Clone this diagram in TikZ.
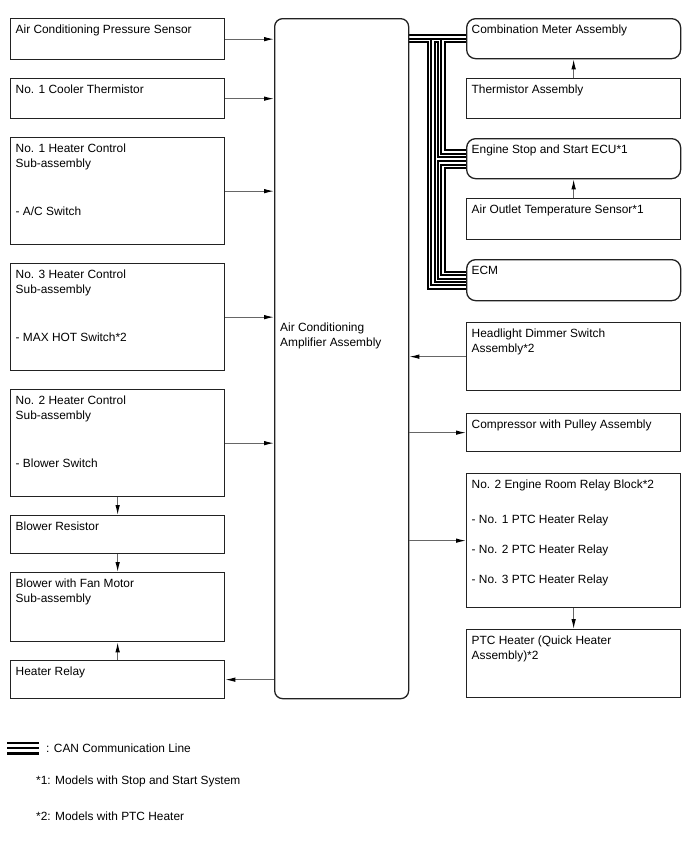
\documentclass[tikz,border=0pt]{standalone}
\usepackage{fontspec}
\setmainfont{Liberation Sans}
\usetikzlibrary{arrows.meta,calc,backgrounds}
\definecolor{wire}{HTML}{666666}
\definecolor{edge}{HTML}{222222}
\tikzset{
  unit/.style = {draw=edge, line width=1.3pt, rectangle, inner sep=0pt, anchor=north west},
  ecu/.style  = {unit, rounded corners=9pt},
  txt/.style  = {anchor=north west, inner sep=0pt, align=left,
                 font=\fontsize{11.9}{15}\selectfont},
  sig/.style  = {draw=wire, line width=1pt, -{Latex[length=10pt,width=4.5pt,color=black]}},
  can/.style  = {line width=0.2*#1, preaction={draw, line width=#1},
                 preaction={draw, white, line width=0.58*#1}},
  can/.default = 9pt,
}
\newcommand{\compbox}[6][unit]{%
  \node[#1, minimum width=#4, minimum height=#5] (#2) at (#3) {};
  \node[txt] (#2-t) at ([shift={(5.5pt,-4.5pt)}]#2.north west) {\strut #6};}

\begin{document}
\begin{tikzpicture}[x=1pt,y=-1pt]
\useasboundingbox (0,0) rectangle (688,852);
% left column
\compbox{acps}{10,18}{214}{41}{Air Conditioning Pressure Sensor}
\compbox{cth}{10,78}{214}{40}{No. 1 Cooler Thermistor}
\compbox{hc1}{10,137}{214}{107}{No. 1 Heater Control\\Sub-assembly\\[33pt]- A/C Switch}
\compbox{hc3}{10,263}{214}{107}{No. 3 Heater Control\\Sub-assembly\\[33pt]- MAX HOT Switch*2}
\compbox{hc2}{10,389}{214}{107}{No. 2 Heater Control\\Sub-assembly\\[33pt]- Blower Switch}
\compbox{bres}{10,515}{214}{38}{Blower Resistor}
\compbox{bfan}{10,572}{214}{69}{Blower with Fan Motor\\Sub-assembly}
\compbox{hrly}{10,660}{214}{38}{Heater Relay}
% amplifier
\node[ecu, rounded corners=8pt, minimum width=134, minimum height=680] (amp) at (274,18) {};
\node[txt] (amp-t) at ([shift={(6pt,37.5pt)}]amp.west) {\strut Air Conditioning\\Amplifier Assembly};
% right column
\compbox[ecu]{cmtr}{466,18}{214}{40}{Combination Meter Assembly}
\compbox{thas}{466,78}{214}{40}{Thermistor Assembly}
\compbox[ecu]{esse}{466,138}{214}{40}{Engine Stop and Start ECU*1}
\compbox{aots}{466,198}{214}{41}{Air Outlet Temperature Sensor*1}
\compbox[ecu]{ecm}{466,259}{214}{41}{ECM}
\compbox{hdsw}{466,322}{214}{68}{Headlight Dimmer Switch\\Assembly*2}
\compbox{cmpr}{466,413}{214}{38}{Compressor with Pulley Assembly}
\compbox{rlyb}{466,473}{214}{134}{No. 2 Engine Room Relay Block*2\\[20pt]- No. 1 PTC Heater Relay\\[15pt]- No. 2 PTC Heater Relay\\[15pt]- No. 3 PTC Heater Relay}
\compbox{ptch}{466,629}{214}{68}{PTC Heater (Quick Heater\\Assembly)*2}
% signal wires
\draw[sig] (acps.east) -- (amp.west |- acps.east);
\draw[sig] (cth.east) -- (amp.west |- cth.east);
\draw[sig] (hc1.east) -- (amp.west |- hc1.east);
\draw[sig] (hc3.east) -- (amp.west |- hc3.east);
\draw[sig] (hc2.east) -- (amp.west |- hc2.east);
\draw[sig] (amp.west |- hrly.east) -- (hrly.east);
\draw[sig] (hc2.south) -- (bres.north);
\draw[sig] (bres.south) -- (bfan.north);
\draw[sig] (hrly.north) -- (bfan.south);
\draw[sig] (thas.north) -- (cmtr.south);
\draw[sig] (aots.north) -- (esse.south);
\draw[sig] (hdsw.west) -- (amp.east |- hdsw.west);
\draw[sig] (amp.east |- cmpr.west) -- (cmpr.west);
\draw[sig] (amp.east |- rlyb.west) -- (rlyb.west);
\draw[sig] (rlyb.south) -- (ptch.north);
% CAN bus
\coordinate (jA) at ($(amp.east |- cmtr.west)+(22,0)$);
\coordinate (jB) at ($(amp.east |- cmtr.west)+(32,0)$);
\coordinate (essin) at ($(esse.west)+(0,-5)$);
\coordinate (essout) at ($(esse.west)+(0,6)$);
\coordinate (ecmin) at ($(ecm.west)+(0,-5)$);
\coordinate (ecmout) at ($(ecm.west)+(0,5)$);
\begin{scope}[on background layer]
\draw[can] (amp.east |- cmtr.west) -- (cmtr.west)
  (jA) |- (ecmout)
  (jB) |- (essin)
  (essout) -| (jB |- ecmin) -- (ecmin);
\end{scope}
% legend
\coordinate (lgA) at (7,748);
\coordinate (lgB) at (39,748);
\draw[can=13pt] (lgA) -- (lgB);
\node[txt, anchor=west] (lg-can) at ([xshift=7pt]lgB) {: CAN Communication Line};
\node[txt, anchor=base west] (lg-n1) at (36,784) {*1: Models with Stop and Start System};
\node[txt, anchor=base west] (lg-n2) at (36,820) {*2: Models with PTC Heater};
\end{tikzpicture}
\end{document}
